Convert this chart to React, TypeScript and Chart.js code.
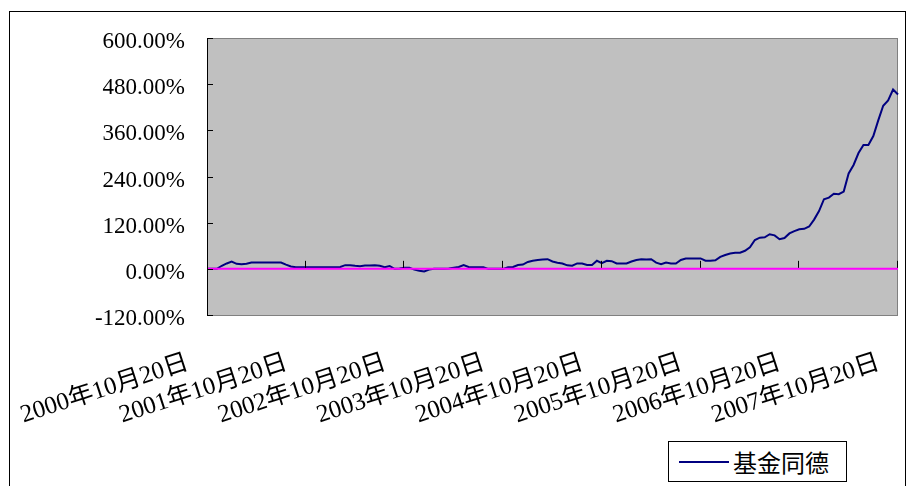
import React, { useEffect, useRef } from 'react';
import { Chart, registerables } from 'chart.js';

Chart.register(...registerables);

// ---- data ----
const seriesName = '基金同德';
const tickLabels = [
  '2000年10月20日',
  '2001年10月20日',
  '2002年10月20日',
  '2003年10月20日',
  '2004年10月20日',
  '2005年10月20日',
  '2006年10月20日',
  '2007年10月20日',
];
const labelStep = 20;
const fundValues = [
  0, 0, 0, 8, 14, 19, 13, 12, 13, 16.5,
  16.5, 16.5, 16.5, 16.5, 16.5, 16.5, 11, 6, 4.4, 4.4,
  4.4, 4.4, 4.4, 4.4, 4.4, 4.4, 4.4, 5, 9.6, 9.6,
  8, 7, 8.5, 8.5, 9.6, 8, 4.5, 7.5, 0, 1,
  3, 3, -2, -5, -7, -2, 0, 0, 0, 1,
  3, 5, 9.6, 5, 4, 4, 4, 0, 0, 0,
  0, 4, 5, 10, 11, 18, 21, 23, 24, 25,
  19, 16, 14, 9, 8, 14, 14, 10, 10, 21,
  15, 21, 20, 14, 14, 14, 19, 23, 25, 24,
  25, 16, 12, 16.5, 14, 14, 23, 27, 27, 27,
  27, 21, 21, 22, 31, 36, 40, 42, 42, 47,
  56, 75, 81, 82, 90, 87, 77, 80, 92, 98,
  103, 104, 110, 128, 150, 181, 185, 195, 194, 201,
  248, 270, 301, 322, 322, 345, 386, 424, 438, 466,
  453,
];
const yTicks = [-120, 0, 120, 240, 360, 480, 600];

const categories = fundValues.map((_, i) =>
  i % labelStep === 0 ? tickLabels[i / labelStep] : ''
);

const FONT = '"Liberation Serif", "Noto Sans CJK SC", serif';

const excelPlot = {
  id: 'excelPlot',
  beforeDraw(chart: any) {
    const { ctx, chartArea: a } = chart;
    ctx.save();
    ctx.fillStyle = '#C0C0C0';
    ctx.fillRect(a.left, a.top, a.right - a.left, a.bottom - a.top);
    ctx.strokeStyle = '#808080';
    ctx.lineWidth = 1;
    ctx.strokeRect(a.left + 0.5, a.top + 0.5, a.right - a.left - 1, a.bottom - a.top);
    ctx.restore();
  },
  afterDatasetsDraw(chart: any) {
    const { ctx, chartArea: a, scales } = chart;
    const xs = scales.x;
    const ys = scales.y;
    const y0 = ys.getPixelForValue(0);
    const seg = (x1: number, y1: number, x2: number, y2: number) => {
      ctx.beginPath();
      ctx.moveTo(x1, y1);
      ctx.lineTo(x2, y2);
      ctx.stroke();
    };
    ctx.save();
    ctx.strokeStyle = '#FF00FF';
    ctx.lineWidth = 2;
    seg(a.left, y0, a.right, y0);
    ctx.strokeStyle = '#000';
    ctx.lineWidth = 1;
    seg(a.left + 0.5, a.top, a.left + 0.5, a.bottom + 1);
    yTicks.forEach((v) => {
      const py = Math.round(ys.getPixelForValue(v)) + 0.5;
      seg(a.left, py, a.left + 6, py);
    });
    for (let i = labelStep; i < fundValues.length; i += labelStep) {
      const px = Math.round(xs.getPixelForValue(i)) - 0.5;
      seg(px, y0 - 8, px, y0 - 1);
    }
    ctx.restore();
  },
};

export default function App() {
  const ref = useRef<HTMLCanvasElement | null>(null);

  useEffect(() => {
    if (!ref.current) return;
    const chart = new Chart(ref.current, {
      type: 'line',
      data: {
        labels: categories,
        datasets: [
          {
            label: seriesName,
            data: fundValues,
            borderColor: '#000080',
            borderWidth: 2,
            pointRadius: 0,
            tension: 0,
            fill: false,
          },
        ],
      },
      options: {
        animation: false,
        responsive: false,
        maintainAspectRatio: false,
        layout: { padding: { top: 38, right: 10, left: 0, bottom: 0 } },
        plugins: {
          legend: { display: false },
          tooltip: { enabled: false },
        },
        scales: {
          x: {
            type: 'category',
            offset: false,
            grid: { display: false, drawTicks: false },
            border: { display: false },
            ticks: {
              autoSkip: false,
              minRotation: 18,
              maxRotation: 18,
              padding: 33,
              labelOffset: -19,
              color: '#000',
              font: { family: FONT, size: 25 },
              callback: (_v: any, i: number) => categories[i],
            },
            afterFit: (s: any) => {
              s.height = 171;
              s.paddingLeft = 0;
              s.paddingRight = 0;
            },
          },
          y: {
            min: -120,
            max: 600,
            grid: { display: false, drawTicks: false },
            border: { display: false },
            ticks: {
              stepSize: 120,
              padding: 22,
              labelOffset: 4,
              color: '#000',
              font: { family: FONT, size: 23 },
              callback: (v: any) => Number(v).toFixed(2) + '%',
            },
            afterFit: (s: any) => {
              s.width = 207;
            },
          },
        },
      },
      plugins: [excelPlot],
    });
    return () => chart.destroy();
  }, []);

  return (
    <div
      style={{
        position: 'fixed',
        left: 0,
        top: 0,
        width: 908,
        height: 486,
        background: '#fff',
        overflow: 'hidden',
      }}
    >
      <canvas
        ref={ref}
        width={908}
        height={486}
        style={{ position: 'absolute', left: 0, top: 0, width: 908, height: 486 }}
      />
      <div
        style={{
          position: 'absolute',
          left: 9,
          top: 11,
          width: 897,
          height: 500,
          border: '1px solid #000',
          boxSizing: 'border-box',
          pointerEvents: 'none',
        }}
      />
      <div
        style={{
          position: 'absolute',
          left: 668,
          top: 441,
          width: 179,
          height: 41,
          border: '1px solid #000',
          boxSizing: 'border-box',
          background: '#fff',
        }}
      >
        <span
          style={{
            position: 'absolute',
            left: 10,
            top: 19,
            width: 50,
            height: 2,
            background: '#000080',
          }}
        />
        <span
          style={{
            position: 'absolute',
            left: 64,
            top: 0,
            lineHeight: '39px',
            fontSize: 24,
            fontFamily: '"Noto Sans CJK SC", sans-serif',
            color: '#000',
            whiteSpace: 'nowrap',
          }}
        >
          {seriesName}
        </span>
      </div>
    </div>
  );
}
